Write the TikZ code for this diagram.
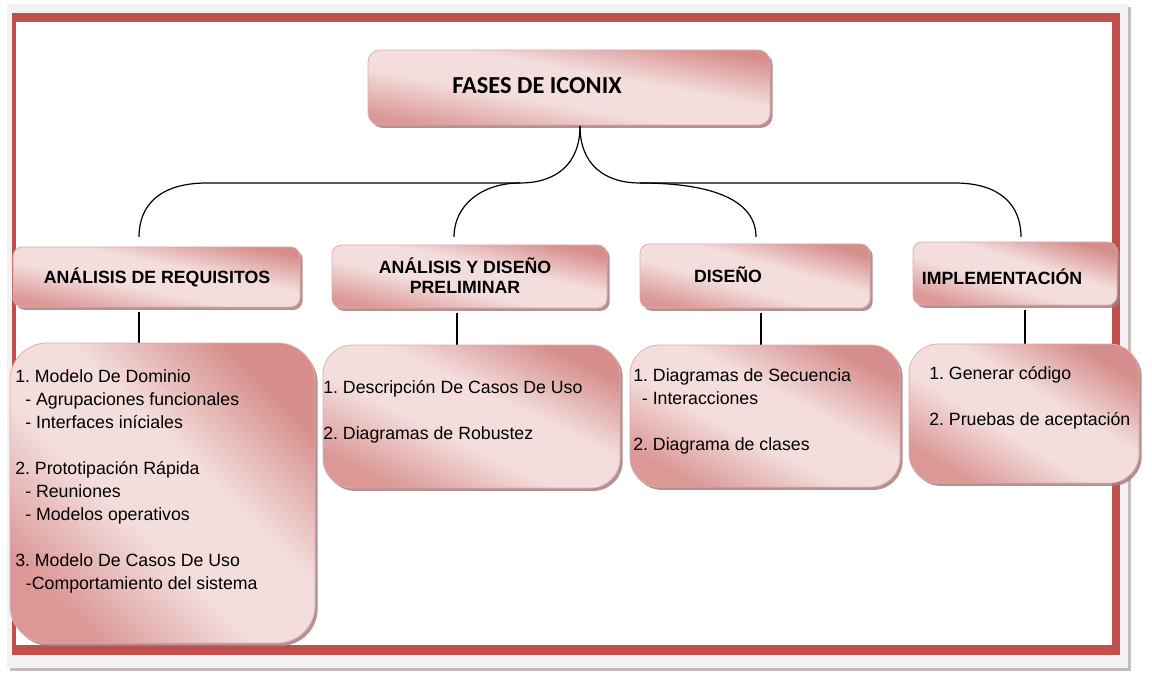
\documentclass[tikz,border=0pt]{standalone}
\usepackage{fontspec}
\setmainfont{Liberation Sans}
\newfontfamily\calib{Carlito}
\usetikzlibrary{shadows}
\definecolor{framered}{RGB}{192,80,77}
\definecolor{pinkdark}{RGB}{214,142,140}
\definecolor{pinkdarkb}{RGB}{219,152,150}
\definecolor{pinklight}{RGB}{243,222,221}
\definecolor{pinkedge}{RGB}{226,172,171}
\definecolor{shadowc}{RGB}{165,128,128}
\definecolor{bggray}{RGB}{242,242,242}
\definecolor{bgshadow}{RGB}{195,188,188}
\pgfdeclareverticalshading{pinkdiag}{100bp}{color(0bp)=(pinkdarkb); color(25bp)=(pinkdarkb); color(43bp)=(pinklight); color(57bp)=(pinklight); color(75bp)=(pinkdark); color(100bp)=(pinkdark)}
\begin{document}
\frenchspacing
\begin{tikzpicture}[x=0.75pt,y=-0.75pt,
  box/.style={draw=pinkedge, line width=0.6pt, shading=pinkdiag, inner sep=0pt, outer sep=0pt, drop shadow={shadow xshift=2pt, shadow yshift=-2.2pt, fill=shadowc, opacity=0.85}},
  hbox/.style={box, rounded corners=7pt},
  cbox/.style={box, rounded corners=22pt},
  conn/.style={line width=0.9pt, black},
  htext/.style={font=\bfseries\fontsize{13.3}{15}\selectfont, inner sep=0pt, anchor=base},
  ctext/.style={font=\fontsize{13.3}{17.25}\selectfont, inner sep=0pt, anchor=north west, align=left}
]
\useasboundingbox (0,0) rectangle (1152,684);
% frame
\fill[bgshadow] (10,7) rectangle (1131,671);
\fill[bggray] (7,4) rectangle (1128,668);
\fill[framered] (12,13) rectangle (1120,655);
\fill[white] (16,22) rectangle (1112,645);

% coordinates
\coordinate (r0) at (580,126);
\coordinate (jl) at (520,183);
\coordinate (jr) at (640,183);
\coordinate (hl) at (207,183);
\coordinate (hr) at (955,183);
\coordinate (e1) at (139,237);
\coordinate (e2) at (454,237);
\coordinate (e3) at (756,237);
\coordinate (e4) at (1021,237);
\coordinate (v1) at (139,0);
\coordinate (v2) at (457,0);
\coordinate (v3) at (761,0);
\coordinate (v4) at (1025,0);

% header boxes
\node[hbox, shading angle=-10.6, rounded corners=9pt, minimum width=301.5pt, minimum height=56.25pt] (root) at (569,87.5) {};
\node[hbox, shading angle=-11.8, minimum width=215.25pt, minimum height=45pt] (h1) at (156.5,277) {};
\node[hbox, shading angle=-12.9, minimum width=206.25pt, minimum height=47.25pt] (h2) at (469.5,276.5) {};
\node[hbox, shading angle=-15.6, minimum width=172.5pt, minimum height=48pt] (h3) at (755,276) {};
\node[hbox, shading angle=-17.2, minimum width=153pt, minimum height=47.25pt] (h4) at (1015,273.5) {};

% connectors
\draw[conn] (r0) .. controls (580,165) and (555,183) .. (jl) -- (hl) .. controls (160,183) and (139,205) .. (e1);
\draw[conn] (jl) .. controls (482,183) and (454,205) .. (e2);
\draw[conn] (r0) .. controls (580,165) and (605,183) .. (jr) .. controls (712,183) and (756,200) .. (e3);
\draw[conn] (jr) -- (hr) .. controls (1000,183) and (1021,205) .. (e4);

\draw[conn] (h1.south -| v1) ++(0,4.5) -- ++(0,32);
\draw[conn] (h2.south -| v2) ++(0,4.5) -- ++(0,33);
\draw[conn] (h3.south -| v3) ++(0,4.5) -- ++(0,33);
\draw[conn] (h4.south -| v4) ++(0,4.5) -- ++(0,35);

% content boxes
\node[cbox, shading angle=-44.5, rounded corners=28pt, minimum width=228.75pt, minimum height=225pt] (c1) at (162.5,493) {};
\node[cbox, shading angle=-25.7, minimum width=222.75pt, minimum height=107.25pt] (c2) at (471.5,416.5) {};
\node[cbox, shading angle=-27.7, minimum width=202.5pt, minimum height=106.5pt] (c3) at (765,416) {};
\node[cbox, shading angle=-31.1, minimum width=172.5pt, minimum height=104.25pt] (c4) at (1024,413.5) {};

% header texts
\node[htext, font=\calib\bfseries\fontsize{18.3}{20}\selectfont] (t0) at (537,94) {FASES DE ICONIX};
\node[htext] (t1) at (157,283) {ANÁLISIS DE REQUISITOS};
\node[htext] (t2a) at (465,273) {ANÁLISIS Y DISEÑO};
\node[htext] (t2b) at (465,293.5) {PRELIMINAR};
\node[htext] (t3) at (728,282) {DISEÑO};
\node[htext] (t4) at (1002,284) {IMPLEMENTACIÓN};

% content texts
\node[ctext] (l1) at (15,369) {1. Modelo De Dominio\\\hspace*{7.5pt}- Agrupaciones funcionales\\\hspace*{7.5pt}- Interfaces iníciales\\[17.25pt]2. Prototipación Rápida\\\hspace*{7.5pt}- Reuniones\\\hspace*{7.5pt}- Modelos operativos\\[17.25pt]3. Modelo De Casos De Uso\\\hspace*{8pt}-Comportamiento del sistema};
\node[ctext] (l2) at (323,380) {1. Descripción De Casos De Uso\\[17.25pt]2. Diagramas de Robustez};
\node[ctext] (l3) at (633,368.6) {1. Diagramas de Secuencia\\\hspace*{6.5pt}- Interacciones\\[17.25pt]2. Diagrama de clases};
\node[ctext] (l4) at (929,366) {1. Generar código\\[17.25pt]2. Pruebas de aceptación};
\end{tikzpicture}
\end{document}
